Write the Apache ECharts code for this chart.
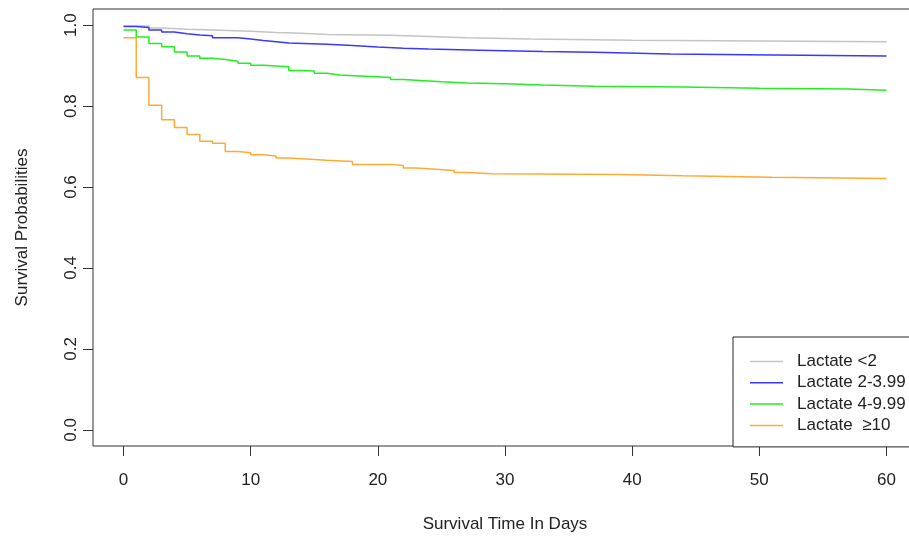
<!DOCTYPE html>
<html>
<head>
<meta charset="utf-8">
<script src="https://cdn.jsdelivr.net/npm/echarts@6/dist/echarts.min.js"></script>
<style>html,body{margin:0;padding:0;background:#fff}#c{width:909px;height:536px}</style>
</head>
<body>
<div id="c"></div>
<script>
// Series names
const groupNames = ['Lactate <2', 'Lactate 2-3.99', 'Lactate 4-9.99', 'Lactate  \u226510'];
// Axis ticks
const xTicks = [0, 10, 20, 30, 40, 50, 60];
const yTicks = [0.0, 0.2, 0.4, 0.6, 0.8, 1.0];

// Lactate <2
const timeA = [0, 2, 3, 5, 7, 10, 12, 14, 16, 21, 24, 27, 32, 40, 50, 60];
const survA = [0.998, 0.993, 0.990, 0.988, 0.985, 0.982, 0.980, 0.977, 0.975, 0.972, 0.969, 0.966, 0.963, 0.961, 0.959, 0.959];
// Lactate 2-3.99
const timeB = [0, 1, 2, 3, 4, 5, 6, 7, 9, 10, 11, 12, 13, 16, 18, 20, 22, 24, 28, 33, 37, 43, 49, 60];
const survB = [0.997, 0.994, 0.988, 0.983, 0.979, 0.976, 0.974, 0.969, 0.966, 0.962, 0.959, 0.956, 0.953, 0.950, 0.946, 0.943, 0.941, 0.938, 0.935, 0.933, 0.929, 0.927, 0.924, 0.924];
// Lactate 4-9.99
const timeC = [0, 1, 2, 3, 4, 5, 6, 7, 8, 9, 10, 11, 13, 14, 15, 16, 17, 19, 21, 22, 23, 25, 27, 30, 33, 37, 44, 50, 57, 60];
const survC = [0.988, 0.971, 0.955, 0.947, 0.934, 0.924, 0.918, 0.915, 0.911, 0.906, 0.901, 0.897, 0.888, 0.887, 0.881, 0.877, 0.874, 0.871, 0.866, 0.864, 0.860, 0.857, 0.855, 0.852, 0.849, 0.847, 0.844, 0.842, 0.839, 0.839];
// Lactate >=10
const timeD = [0, 1, 2, 3, 4, 5, 6, 7, 8, 9, 10, 11, 12, 13, 15, 16, 18, 21, 22, 23, 24, 26, 27, 29, 39, 44, 51, 60];
const survD = [0.969, 0.871, 0.802, 0.766, 0.747, 0.730, 0.713, 0.708, 0.688, 0.685, 0.680, 0.677, 0.672, 0.668, 0.666, 0.663, 0.656, 0.653, 0.647, 0.645, 0.641, 0.636, 0.633, 0.631, 0.628, 0.624, 0.621, 0.621];

const colors = ['#c4c4c4', '#3838ff', '#22ee22', '#ffaa33'];
const times = [timeA, timeB, timeC, timeD];
const survs = [survA, survB, survC, survD];

const FONT = 'Liberation Sans, Arial, sans-serif';
const TXT = '#222';

const chart = echarts.init(document.getElementById('c'), null, {renderer: 'canvas'});

const series = groupNames.map((name, i) => ({
  name: name,
  type: 'line',
  step: 'end',
  symbol: 'none',
  silent: true,
  animation: false,
  lineStyle: {color: colors[i], width: 1.5},
  itemStyle: {color: colors[i]},
  data: times[i].map((t, k) => [t, survs[i][k]])
}));

// R-style 4% padding of the axis ranges
const xPad = (xTicks[xTicks.length - 1] - xTicks[0]) * 0.04;
const yPad = (yTicks[yTicks.length - 1] - yTicks[0]) * 0.04;

chart.setOption({
  animation: false,
  backgroundColor: '#fff',
  grid: {left: 93, top: 9, width: 824, height: 437, outerBoundsMode: 'none', containLabel: false,
    show: true, borderColor: '#333', borderWidth: 1, backgroundColor: 'transparent'},
  xAxis: {
    type: 'value', min: xTicks[0] - xPad, max: xTicks[xTicks.length - 1] + xPad,
    axisLine: {show: false, onZero: false},
    axisTick: {show: true, inside: false, length: 10, customValues: xTicks, lineStyle: {color: '#333', width: 1}},
    splitLine: {show: false},
    axisLabel: {show: true, margin: 26, customValues: xTicks, color: TXT, fontSize: 17, fontFamily: FONT},
    name: 'Survival Time In Days',
    nameLocation: 'middle',
    nameGap: 70,
    nameTextStyle: {color: TXT, fontSize: 17, fontFamily: FONT}
  },
  yAxis: {
    type: 'value', min: yTicks[0] - yPad, max: yTicks[yTicks.length - 1] + yPad,
    axisLine: {show: false, onZero: false},
    axisTick: {show: true, inside: false, length: 10, customValues: yTicks, lineStyle: {color: '#333', width: 1}},
    splitLine: {show: false},
    axisLabel: {show: true, rotate: 90, margin: 13, customValues: yTicks, color: TXT, fontSize: 17, fontFamily: FONT,
      formatter: v => v.toFixed(1)},
    name: 'Survival Probabilities',
    nameLocation: 'middle',
    nameGap: 62,
    nameTextStyle: {color: TXT, fontSize: 17, fontFamily: FONT}
  },
  legend: {
    show: true,
    left: 733,
    top: 337,
    orient: 'vertical',
    padding: [16, 30, 13, 17],
    icon: 'rect',
    itemWidth: 33,
    itemHeight: 1.5,
    itemGap: 4.3,
    borderColor: '#222',
    borderWidth: 1,
    backgroundColor: '#fff',
    selectedMode: false,
    data: groupNames.map((n, i) => ({name: n, itemStyle: {color: colors[i]}})),
    textStyle: {color: TXT, fontSize: 17, lineHeight: 17, fontFamily: FONT, padding: [0, 0, 0, 9]}
  },
  series: series
});
</script>
</body>
</html>
